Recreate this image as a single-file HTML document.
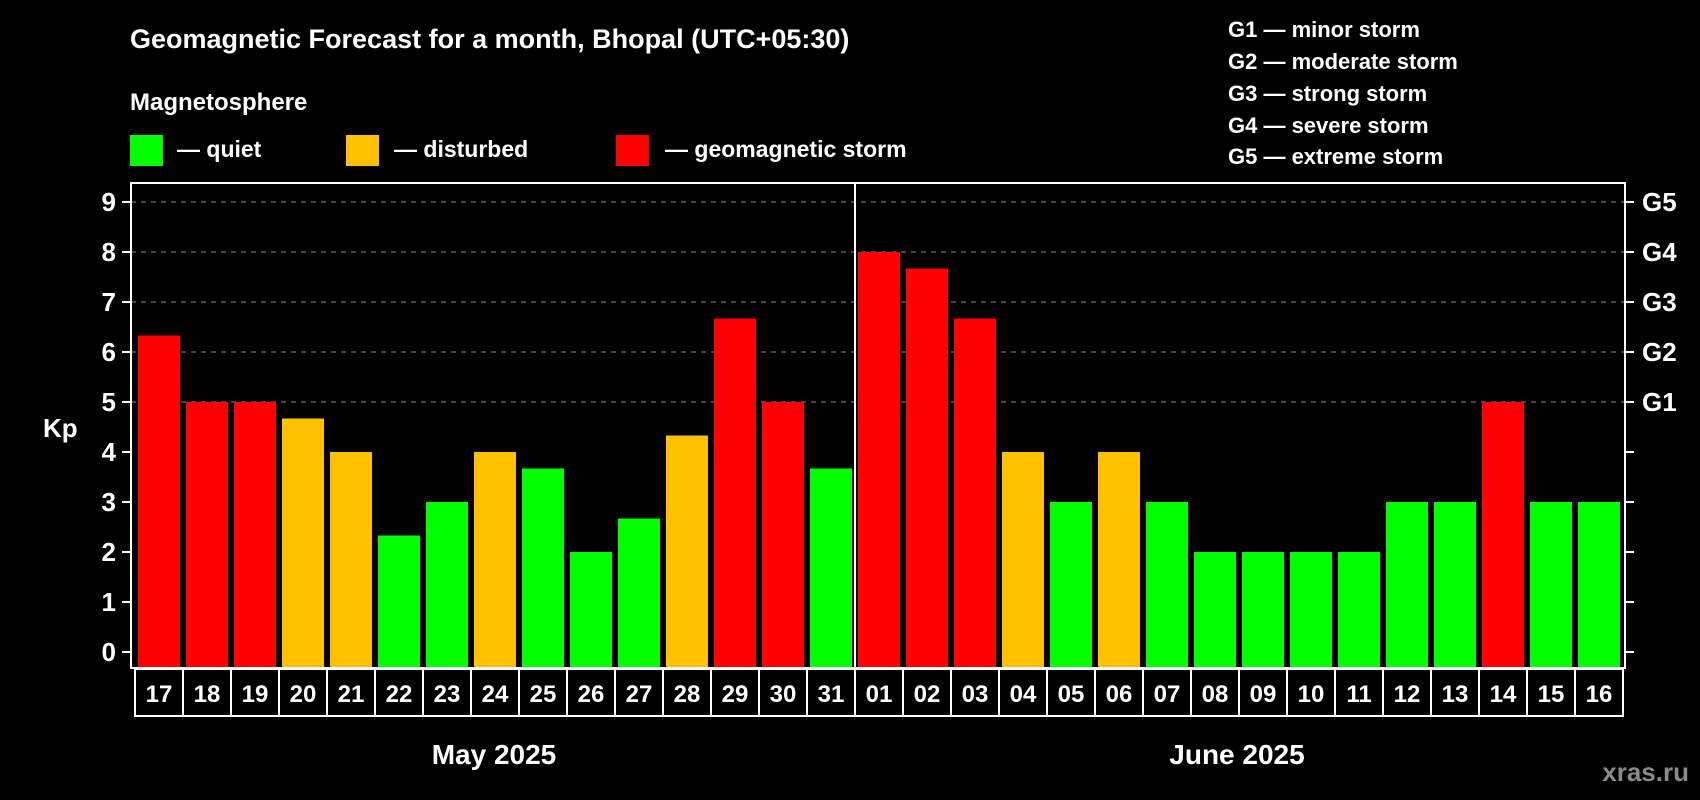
<!DOCTYPE html>
<html><head><meta charset="utf-8"><style>
html,body{margin:0;padding:0;background:#000;}
svg{display:block;font-family:"Liberation Sans",sans-serif;font-weight:bold;}
</style></head><body>
<svg id="chart" width="1700" height="800" viewBox="0 0 1700 800">
<rect x="0" y="0" width="1700" height="800" fill="#000"/>
<text x="130" y="48" fill="#fff" font-size="27">Geomagnetic Forecast for a month, Bhopal (UTC+05:30)</text>
<text x="130" y="110" fill="#fff" font-size="24">Magnetosphere</text>
<rect x="130" y="135" width="33" height="31" fill="#00ff00"/>
<text x="177" y="157" fill="#fff" font-size="23">— quiet</text>
<rect x="346" y="135" width="33" height="31" fill="#ffc000"/>
<text x="394" y="157" fill="#fff" font-size="23">— disturbed</text>
<rect x="616" y="135" width="33" height="31" fill="#ff0000"/>
<text x="665" y="157" fill="#fff" font-size="23">— geomagnetic storm</text>
<g fill="#fff" font-size="22">
<text x="1228" y="37">G1 — minor storm</text>
<text x="1228" y="69">G2 — moderate storm</text>
<text x="1228" y="101">G3 — strong storm</text>
<text x="1228" y="133">G4 — severe storm</text>
<text x="1228" y="164">G5 — extreme storm</text>
</g>
<text x="43" y="437" fill="#fff" font-size="26">Kp</text>
<text x="494" y="764" fill="#fff" font-size="28" text-anchor="middle">May 2025</text>
<text x="1237" y="764" fill="#fff" font-size="28" text-anchor="middle">June 2025</text>
<text x="1689" y="781" fill="#8a8a8a" font-size="26" text-anchor="end">xras.ru</text>
<g id="plot"></g>
</svg>
<script>
const days = ["17","18","19","20","21","22","23","24","25","26","27","28","29","30","31","01","02","03","04","05","06","07","08","09","10","11","12","13","14","15","16"];
const kpValues = [6.33,5,5,4.67,4,2.33,3,4,3.67,2,2.67,4.33,6.67,5,3.67,8,7.67,6.67,4,3,4,3,2,2,2,2,3,3,5,3,3];
const yTicks = [0,1,2,3,4,5,6,7,8,9];
const gLabels = ["","","","","","G1","G2","G3","G4","G5"];
const monthBreakIndex = 15;

const NS = "http://www.w3.org/2000/svg";
const g = document.getElementById("plot");
const X0 = 131, X1 = 1625, Y0 = 183, Y1 = 668, BOXB = 716;
const pitch = 48, barOff = 7, barW = 42;
const yScale = v => 652 - v * 50;
const xBar = i => 138 + i * pitch;
function mk(tag, attrs) {
  const e = document.createElementNS(NS, tag);
  for (const k in attrs) e.setAttribute(k, attrs[k]);
  g.appendChild(e);
  return e;
}
function color(v) { return v >= 5 ? "#ff0000" : (v >= 4 ? "#ffc000" : "#00ff00"); }

yTicks.forEach((t, i) => {
  const y = yScale(t);
  if (t >= 5) {
    const l = mk("line", {x1: X0, x2: X1, y1: y, y2: y, stroke: "#8a8a8a", "stroke-width": 1, "stroke-dasharray": "5,5"});
    
    
  }
  const tl = mk("line", {x1: X0 - 9, x2: X0, y1: y, y2: y, stroke: "#fff", "stroke-width": 2});
  
  
  const tr = mk("line", {x1: X1, x2: X1 + 9, y1: y, y2: y, stroke: "#fff", "stroke-width": 2});
  
  
  const lab = mk("text", {x: 116, y: y + 9, fill: "#fff", "font-size": 26, "text-anchor": "end"});
  lab.textContent = t;
  
  
  if (gLabels[i]) {
    const gl = mk("text", {x: 1642, y: y + 9, fill: "#fff", "font-size": 26});
    gl.textContent = gLabels[i];
    
    
  }
});

kpValues.forEach((v, i) => {
  const r = mk("rect", {x: xBar(i), y: yScale(v), width: barW, height: Y1 - yScale(v), fill: color(v)});
  
  
  const bx = mk("rect", {x: 135 + i * pitch, y: Y1 + 1, width: pitch, height: BOXB - Y1 - 1, fill: "none", stroke: "#fff", "stroke-width": 2});
  
  
  const dl = mk("text", {x: 135 + i * pitch + pitch / 2, y: 702, fill: "#fff", "font-size": 24, "text-anchor": "middle"});
  dl.textContent = days[i];
  
  
});

const frame = mk("rect", {x: X0, y: Y0, width: X1 - X0, height: Y1 - Y0, fill: "none", stroke: "#fff", "stroke-width": 2});


const dx = xBar(monthBreakIndex) - 3;
const div = mk("line", {x1: dx, x2: dx, y1: Y0, y2: Y1, stroke: "#fff", "stroke-width": 2});


</script>
</body></html>
